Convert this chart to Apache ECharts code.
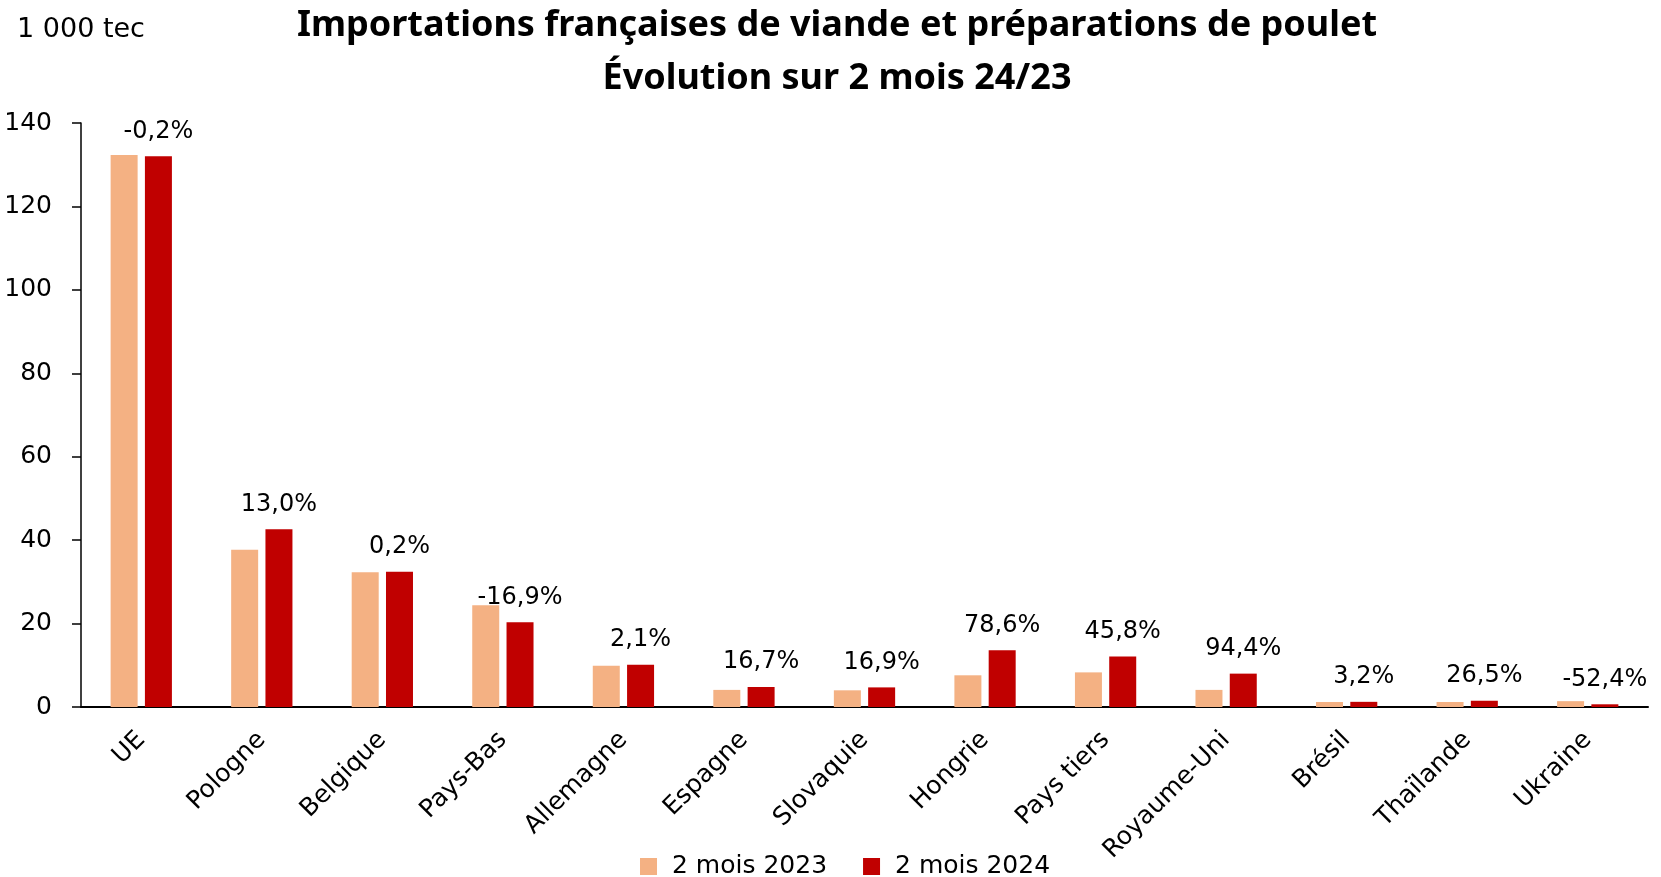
<!DOCTYPE html>
<html>
<head>
<meta charset="utf-8">
<script src="https://cdn.jsdelivr.net/npm/echarts@6/dist/echarts.min.js"></script>
<style>
  body { margin: 0; background: #fff; }
  #main { width: 1661px; height: 877px; }
</style>
</head>
<body>
<div id="main"></div>
<script>
var categories = ['UE', 'Pologne', 'Belgique', 'Pays-Bas', 'Allemagne', 'Espagne', 'Slovaquie',
                  'Hongrie', 'Pays tiers', 'Royaume-Uni', 'Brésil', 'Thaïlande', 'Ukraine'];
var values2023 = [132.3, 37.7, 32.3, 24.4, 9.9, 4.1, 4.0, 7.6, 8.3, 4.1, 1.2, 1.2, 1.4];
var values2024 = [132.0, 42.6, 32.4, 20.3, 10.1, 4.8, 4.7, 13.6, 12.1, 8.0, 1.24, 1.5, 0.65];
var evolution = ['-0,2%', '13,0%', '0,2%', '-16,9%', '2,1%', '16,7%', '16,9%',
                 '78,6%', '45,8%', '94,4%', '3,2%', '26,5%', '-52,4%'];
var yTicks = [0, 20, 40, 60, 80, 100, 120, 140];

var font = 'DejaVu Sans';

var myChart = echarts.init(document.getElementById('main'));
var option = {
    animation: false,
    title: {
        text: 'Importations françaises de viande et préparations de poulet\nÉvolution sur 2 mois 24/23',
        left: 837,
        top: -1,
        padding: 0,
        textAlign: 'center',
        textStyle: {
            fontFamily: 'Noto Sans',
            fontWeight: 'bold',
            fontSize: 36,
            lineHeight: 53,
            color: '#000'
        }
    },
    legend: {
        data: ['2 mois 2023', '2 mois 2024'],
        left: 635,
        top: 849,
        itemWidth: 17,
        itemHeight: 17,
        itemGap: 36,
        icon: 'rect',
        textStyle: {
            fontFamily: font,
            fontSize: 25,
            color: '#000',
            padding: [0, 0, 0, 10]
        }
    },
    grid: {
        left: 81,
        right: 13,
        top: 123,
        bottom: 170,
        containLabel: false
    },
    xAxis: [
        {
            type: 'category',
            data: categories,
            axisLine: { lineStyle: { color: '#000', width: 2 } },
            axisTick: { show: false },
            axisLabel: {
                interval: 0,
                rotate: 45,
                margin: 29,
                fontFamily: font,
                fontSize: 25,
                color: '#000'
            }
        }
    ],
    yAxis: [
        {
            type: 'value',
            min: yTicks[0],
            max: yTicks[yTicks.length - 1],
            interval: 20,
            name: '1 000 tec',
            nameLocation: 'end',
            nameGap: 80,
            nameTextStyle: { fontFamily: font, fontSize: 27, color: '#000' },
            axisLine: { show: true, lineStyle: { color: '#000', width: 1.5 } },
            axisTick: { show: true, length: 9, lineStyle: { color: '#000', width: 1.5 } },
            splitLine: { show: false },
            axisLabel: {
                margin: 29,
                fontFamily: font,
                fontSize: 25,
                color: '#000'
            }
        }
    ],
    series: [
        {
            name: '2 mois 2023',
            type: 'bar',
            barWidth: 27,
            barGap: '27%',
            itemStyle: { color: '#F4B183' },
            data: values2023
        },
        {
            name: '2 mois 2024',
            type: 'bar',
            barWidth: 27,
            barGap: '27%',
            itemStyle: { color: '#C00000' },
            label: {
                show: true,
                position: 'top',
                distance: 13,
                fontFamily: font,
                fontSize: 24,
                color: '#000',
                formatter: function (p) {
                    return evolution[p.dataIndex];
                }
            },
            data: values2024
        }
    ]
};
myChart.setOption(option);
</script>
</body>
</html>
